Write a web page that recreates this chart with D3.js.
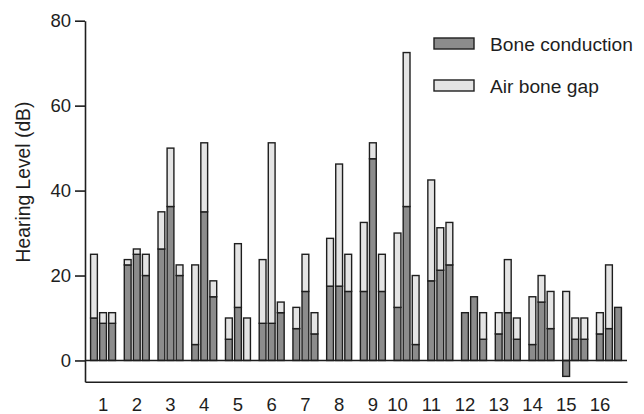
<!DOCTYPE html>
<html>
<head>
<meta charset="utf-8">
<script src="https://cdn.jsdelivr.net/npm/d3@7"></script>
<style>
  body { margin: 0; background: #fff; }
  svg { display: block; font-family: "Liberation Sans", Arial, sans-serif; }
</style>
</head>
<body>
<div id="display"></div>
<script>
// patients 1..16, three ears/measurements each
let patients = d3.range(1, 17).map(String)
let boneConduction = [
  [10, 8.75, 8.75], [22.5, 25, 20], [26.25, 36.25, 20], [3.75, 35, 15],
  [5, 12.5, 0], [8.75, 8.75, 11.25], [7.5, 16.25, 6.25], [17.5, 17.5, 16.25],
  [16.25, 47.5, 16.25], [12.5, 36.25, 3.75], [18.75, 21.25, 22.5], [11.25, 15, 5],
  [6.25, 11.25, 5], [3.75, 13.75, 7.5], [-3.75, 5, 5], [6.25, 7.5, 12.5]
]
let airBoneGap = [
  [15, 2.5, 2.5], [1.25, 1.25, 5], [8.75, 13.75, 2.5], [18.75, 16.25, 3.75],
  [5, 15, 10], [15, 42.5, 2.5], [5, 8.75, 5], [11.25, 28.75, 8.75],
  [16.25, 3.75, 8.75], [17.5, 36.25, 16.25], [23.75, 10, 10], [0, 0, 6.25],
  [5, 12.5, 5], [11.25, 6.25, 8.75], [16.25, 5, 5], [5, 15, 0]
]
let yTicks = [0, 20, 40, 60, 80]
let seriesNames = ["Bone conduction", "Air bone gap"]

function chart(parentNode)
{
  let width = 644
  let height = 414
  let margin = {top: 20.7, right: 17, bottom: 32.3, left: 85}
  let colors = ["#8c8c8c", "#e4e4e4"]

  let x = d3.scaleBand(patients, [margin.left, width - margin.right])
    .paddingInner(0.26).paddingOuter(0.165)
  let xi = d3.scaleBand([0, 1, 2], [0, x.bandwidth()]).paddingInner(0.25)
  let y = d3.scaleLinear([-5, 80], [height - margin.bottom, margin.top])

  // flatten into one row per bar
  let rows = []
  patients.forEach((p, i) => {
    boneConduction[i].forEach((b, j) => {
      rows.push({patient: p, idx: j, bone: b, gap: airBoneGap[i][j]})
    })
  })

  let stack = d3.stack()
    .keys(["bone", "gap"])
    .offset(d3.stackOffsetDiverging)
  let series = stack(rows)

  const svg = d3.create("svg")
      .attr("width", width)
      .attr("height", height)
      .attr("viewBox", [0, 0, width, height])

  svg.append("g")
    .selectAll("g")
    .data(series)
    .join("g")
      .attr("fill", (d, i) => colors[i])
      .attr("stroke", "#1e1e1e")
      .attr("stroke-width", 1.4)
    .selectAll("rect")
    .data(d => d.filter(s => s[1] - s[0] !== 0))
    .join("rect")
      .attr("x", d => x(d.data.patient) + xi(d.data.idx))
      .attr("width", xi.bandwidth())
      .attr("y", d => y(Math.max(d[0], d[1])))
      .attr("height", d => Math.abs(y(d[0]) - y(d[1])))

  // zero line
  svg.append("line")
      .attr("x1", margin.left)
      .attr("x2", width - margin.right)
      .attr("y1", y(0))
      .attr("y2", y(0))
      .attr("stroke", "#1e1e1e")
      .attr("stroke-width", 1.6)

  // y axis
  svg.append("g")
      .attr("transform", `translate(${margin.left},0)`)
      .call(d3.axisLeft(y).tickValues(yTicks).tickSize(10).tickSizeOuter(0).tickPadding(4))
      .call(g => g.selectAll("path, line").attr("stroke", "#1e1e1e").attr("stroke-width", 1.6))
      .call(g => g.selectAll("text").attr("font-size", 18.5).attr("fill", "#1e1e1e")
        .attr("font-family", "Liberation Sans, Arial, sans-serif"))

  // x axis (bottom line, no ticks)
  svg.append("g")
      .attr("transform", `translate(0,${y(-5)})`)
      .call(d3.axisBottom(x).tickSize(0).tickPadding(16))
      .call(g => g.select(".domain").attr("stroke", "#1e1e1e").attr("stroke-width", 1.6))
      .call(g => g.selectAll("text").attr("font-size", 18.5).attr("fill", "#1e1e1e")
        .attr("font-family", "Liberation Sans, Arial, sans-serif")
        .attr("dx", d => d.length > 1 ? -9 : 0))

  svg.append("text")
      .attr("transform", "translate(30,182) rotate(-90)")
      .attr("text-anchor", "middle")
      .attr("font-size", 19.3)
      .attr("fill", "#1e1e1e")
      .text("Hearing Level (dB)")

  // legend
  let legend = svg.append("g")
      .attr("transform", "translate(434,38)")
    .selectAll("g")
    .data(seriesNames)
    .join("g")
      .attr("transform", (d, i) => `translate(0,${i * 42})`)

  legend.append("rect")
      .attr("width", 40)
      .attr("height", 11)
      .attr("fill", (d, i) => colors[i])
      .attr("stroke", "#1e1e1e")
      .attr("stroke-width", 1.4)

  legend.append("text")
      .attr("x", 56)
      .attr("y", 12.5)
      .attr("font-size", 19.2)
      .attr("fill", "#1e1e1e")
      .text(d => d)

  parentNode.appendChild(svg.node())
}

document.addEventListener("DOMContentLoaded", () => {
  chart(document.getElementById("display"))
})
</script>
</body>
</html>
